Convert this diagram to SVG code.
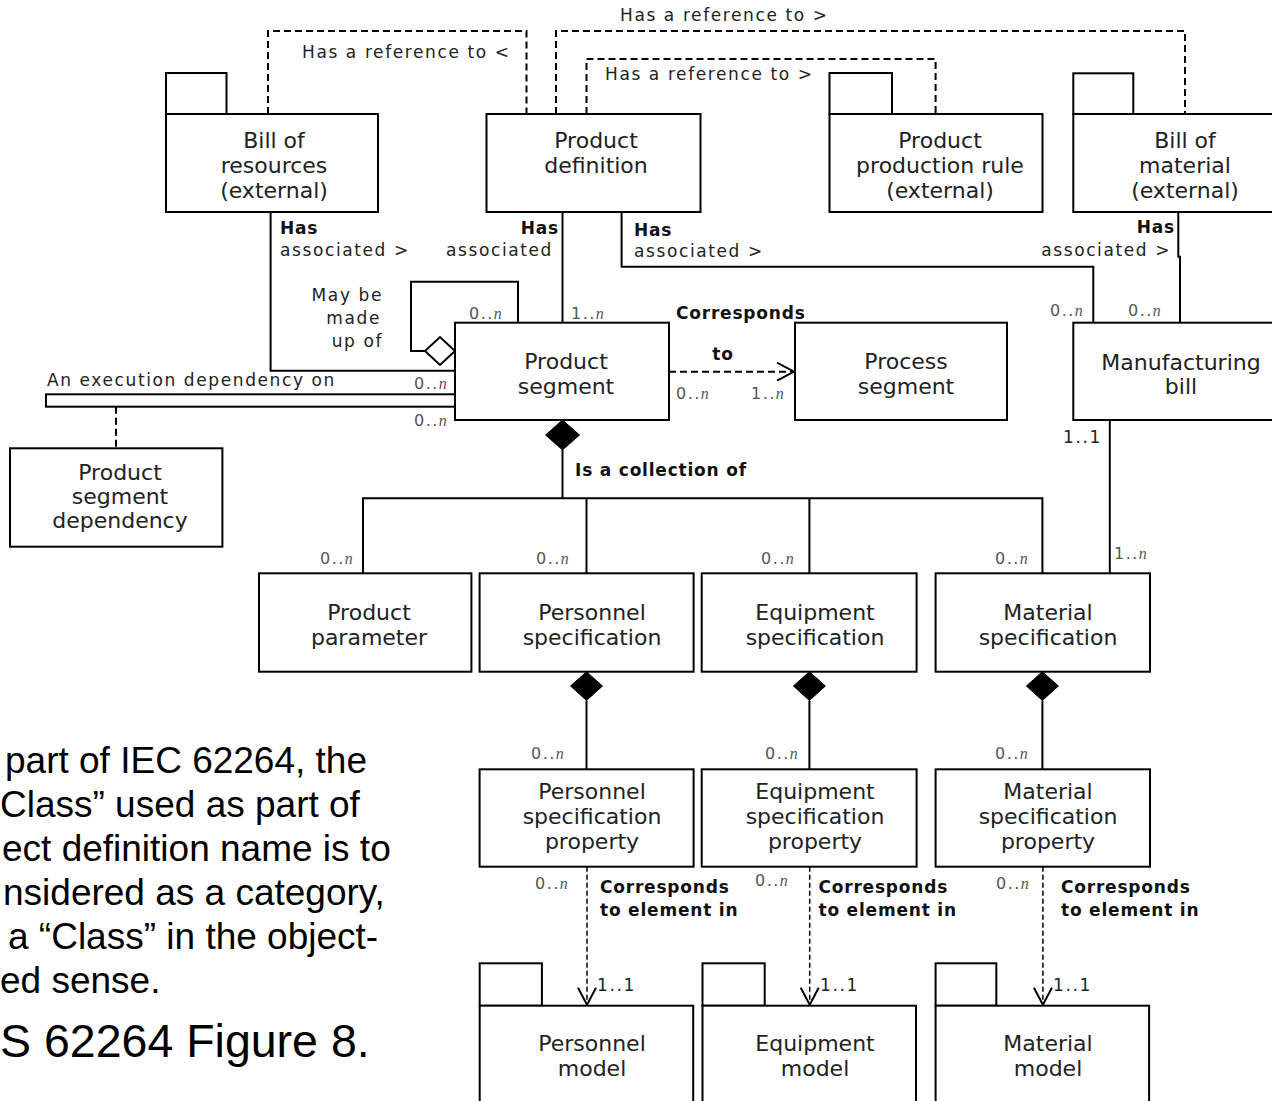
<svg xmlns="http://www.w3.org/2000/svg" width="1272" height="1101" viewBox="0 0 1272 1101">
<style>
.box{fill:#fff;stroke:#000;stroke-width:2}
.ln{fill:none;stroke:#000;stroke-width:2}
.dl{fill:none;stroke:#000;stroke-width:2;stroke-dasharray:7 4}
.dt{fill:none;stroke:#000;stroke-width:1.5;stroke-dasharray:5 3}
.fd{fill:#000;stroke:#000;stroke-width:1}
.hd{fill:#fff;stroke:#000;stroke-width:2}
.nt{font-family:"DejaVu Sans",sans-serif;font-size:22px;fill:#222;text-anchor:middle}
.el{font-family:"DejaVu Sans",sans-serif;font-size:17px;fill:#222;letter-spacing:1.6px}
.eb{font-family:"DejaVu Sans",sans-serif;font-size:17px;fill:#111;font-weight:bold;letter-spacing:0.8px}
.mu{font-family:"DejaVu Sans",sans-serif;font-size:16px;fill:#555;letter-spacing:1.5px}
.it{font-family:"Liberation Serif",serif;font-style:italic}
.end{text-anchor:end}
.big{font-family:"Liberation Sans",Arial,sans-serif;font-size:37px;fill:#000}
</style>
<defs>
<marker id="open" markerUnits="userSpaceOnUse" viewBox="0 0 20 20" markerWidth="20" markerHeight="20" refX="19" refY="10" orient="auto">
<path d="M2,1 L19,10 L2,19" fill="none" stroke="#000" stroke-width="2"/>
</marker>
</defs>
<rect width="1272" height="1101" fill="#fff"/>

<g id="connectors">
<path class="dl" d="M268,114 V31 H526.5 V114"/>
<path class="dl" d="M556,114 V31 H1185 V114"/>
<path class="dl" d="M586.5,114 V59 H935.6 V114"/>
<path class="ln" d="M270.6,212 V370.7 H455"/>
<path class="ln" d="M562.5,212 V322.7"/>
<path class="ln" d="M621.6,212 V266.7 H1093.3 V322.7"/>
<path class="ln" d="M1178.3,212 V256.7 H1180 V322.7"/>
<path class="ln" d="M518,322.7 V281.7 H411 V351 H425"/>
<polygon class="hd" points="425,351 440,337 455,351 440,365"/>
<rect class="box" x="46" y="394.3" width="409" height="12.4"/>
<path class="dl" d="M116,406.7 V448.3"/>
<path class="dl" d="M669,371.7 H794" marker-end="url(#open)"/>
<polygon class="fd" points="562.5,420 579.5,435 562.5,450 545.5,435"/>
<path class="ln" d="M562.5,450 V498.3"/>
<path class="ln" d="M363,573.3 V498.3 H1042.4 V573.3"/>
<path class="ln" d="M586.5,498.3 V573.3"/>
<path class="ln" d="M809.4,498.3 V573.3"/>
<path class="ln" d="M1109.8,420 V573.3"/>
<polygon class="fd" points="586.5,671.7 602.5,686 586.5,700.5 570.5,686"/>
<polygon class="fd" points="809.4,671.7 825.4,686 809.4,700.5 793.4,686"/>
<polygon class="fd" points="1042.4,671.7 1058.4,686 1042.4,700.5 1026.4,686"/>
<path class="ln" d="M586.5,700.5 V769.3"/>
<path class="ln" d="M809.4,700.5 V769.3"/>
<path class="ln" d="M1042.4,700.5 V769.3"/>
<path class="dt" d="M587,866.7 V1004.7" marker-end="url(#open)"/>
<path class="dt" d="M809.7,866.7 V1004.7" marker-end="url(#open)"/>
<path class="dt" d="M1042.9,866.7 V1004.7" marker-end="url(#open)"/>

<text class="el" x="302" y="58">Has a reference to &lt;</text>
<text class="el" x="620" y="21">Has a reference to  &gt;</text>
<text class="el" x="605" y="80">Has a reference to &gt;</text>
<text class="eb" x="280" y="234">Has</text>
<text class="el" x="280" y="256">associated &gt;</text>
<text class="eb end" x="559" y="234">Has</text>
<text class="el end" x="553" y="256">associated</text>
<text class="eb" x="634" y="236">Has</text>
<text class="el" x="634" y="257">associated &gt;</text>
<text class="eb end" x="1175" y="233">Has</text>
<text class="el end" x="1171" y="256">associated &gt;</text>
<text class="el end" x="383" y="301">May be</text>
<text class="el end" x="381" y="324">made</text>
<text class="el end" x="383" y="347">up of</text>
<text class="el" x="47" y="386">An execution dependency on</text>
<text class="eb" x="676" y="319">Corresponds</text>
<text class="eb" x="723" y="360" text-anchor="middle">to</text>
<text class="eb" x="575" y="476">Is a collection of</text>
<text class="eb" x="600" y="893">Corresponds</text>
<text class="eb" x="600" y="916">to element in</text>
<text class="eb" x="818.5" y="893">Corresponds</text>
<text class="eb" x="818.5" y="916">to element in</text>
<text class="eb" x="1061" y="893">Corresponds</text>
<text class="eb" x="1061" y="916">to element in</text>

<text class="mu" x="469" y="319">0..<tspan class="it">n</tspan></text>
<text class="mu" x="571" y="319">1..<tspan class="it">n</tspan></text>
<text class="mu" x="414" y="389">0..<tspan class="it">n</tspan></text>
<text class="mu" x="414" y="426">0..<tspan class="it">n</tspan></text>
<text class="mu" x="676" y="399">0..<tspan class="it">n</tspan></text>
<text class="mu" x="751" y="399">1..<tspan class="it">n</tspan></text>
<text class="mu" x="1050" y="316">0..<tspan class="it">n</tspan></text>
<text class="mu" x="1128" y="316">0..<tspan class="it">n</tspan></text>
<text class="el" x="1063" y="443">1..1</text>
<text class="mu" x="1114" y="559">1..<tspan class="it">n</tspan></text>
<text class="mu" x="320" y="564">0..<tspan class="it">n</tspan></text>
<text class="mu" x="536" y="564">0..<tspan class="it">n</tspan></text>
<text class="mu" x="761" y="564">0..<tspan class="it">n</tspan></text>
<text class="mu" x="995" y="564">0..<tspan class="it">n</tspan></text>
<text class="mu" x="531" y="759">0..<tspan class="it">n</tspan></text>
<text class="mu" x="765" y="759">0..<tspan class="it">n</tspan></text>
<text class="mu" x="995" y="759">0..<tspan class="it">n</tspan></text>
<text class="mu" x="535" y="889">0..<tspan class="it">n</tspan></text>
<text class="mu" x="755" y="886">0..<tspan class="it">n</tspan></text>
<text class="mu" x="996" y="889">0..<tspan class="it">n</tspan></text>
<text class="el" x="597" y="991">1..1</text>
<text class="el" x="820" y="991">1..1</text>
<text class="el" x="1053" y="991">1..1</text>
</g>

<g id="bill-of-resources">
<rect class="box" x="166" y="73" width="60.5" height="41"/>
<rect class="box" x="166" y="114" width="212" height="98"/>
<text class="nt" x="274" y="148">Bill of</text>
<text class="nt" x="274" y="173">resources</text>
<text class="nt" x="274" y="198">(external)</text>
</g>
<g id="product-definition">
<rect class="box" x="486.5" y="114" width="214" height="98"/>
<text class="nt" x="596" y="148">Product</text>
<text class="nt" x="596" y="173">definition</text>
</g>
<g id="product-production-rule">
<rect class="box" x="829.5" y="73" width="62.5" height="41"/>
<rect class="box" x="829.5" y="114" width="213" height="98"/>
<text class="nt" x="940" y="148">Product</text>
<text class="nt" x="940" y="173">production rule</text>
<text class="nt" x="940" y="198">(external)</text>
</g>
<g id="bill-of-material">
<rect class="box" x="1073.3" y="73.3" width="60" height="40.7"/>
<rect class="box" x="1073.3" y="114" width="224" height="98"/>
<text class="nt" x="1185" y="148">Bill of</text>
<text class="nt" x="1185" y="173">material</text>
<text class="nt" x="1185" y="198">(external)</text>
</g>
<g id="product-segment">
<rect class="box" x="455" y="322.7" width="214" height="97.3"/>
<text class="nt" x="566" y="369">Product</text>
<text class="nt" x="566" y="394">segment</text>
</g>
<g id="process-segment">
<rect class="box" x="795" y="322.7" width="212" height="97.3"/>
<text class="nt" x="906" y="369">Process</text>
<text class="nt" x="906" y="394">segment</text>
</g>
<g id="manufacturing-bill">
<rect class="box" x="1073.3" y="322.7" width="216" height="97.3"/>
<text class="nt" x="1181" y="370">Manufacturing</text>
<text class="nt" x="1181" y="394">bill</text>
</g>
<g id="product-segment-dependency">
<rect class="box" x="10" y="448.3" width="212.4" height="98.4"/>
<text class="nt" x="120" y="480">Product</text>
<text class="nt" x="120" y="504">segment</text>
<text class="nt" x="120" y="528">dependency</text>
</g>
<g id="product-parameter">
<rect class="box" x="259" y="573.3" width="212.4" height="98.4"/>
<text class="nt" x="369" y="620">Product</text>
<text class="nt" x="369" y="645">parameter</text>
</g>
<g id="personnel-specification">
<rect class="box" x="479.6" y="573.3" width="214" height="98.4"/>
<text class="nt" x="592" y="620">Personnel</text>
<text class="nt" x="592" y="645">specification</text>
</g>
<g id="equipment-specification">
<rect class="box" x="701.7" y="573.3" width="214.9" height="98.4"/>
<text class="nt" x="815" y="620">Equipment</text>
<text class="nt" x="815" y="645">specification</text>
</g>
<g id="material-specification">
<rect class="box" x="935.6" y="573.3" width="214.4" height="98.4"/>
<text class="nt" x="1048" y="620">Material</text>
<text class="nt" x="1048" y="645">specification</text>
</g>
<g id="personnel-specification-property">
<rect class="box" x="479.6" y="769.3" width="214" height="97.4"/>
<text class="nt" x="592" y="799">Personnel</text>
<text class="nt" x="592" y="824">specification</text>
<text class="nt" x="592" y="849">property</text>
</g>
<g id="equipment-specification-property">
<rect class="box" x="701.7" y="769.3" width="214.9" height="97.4"/>
<text class="nt" x="815" y="799">Equipment</text>
<text class="nt" x="815" y="824">specification</text>
<text class="nt" x="815" y="849">property</text>
</g>
<g id="material-specification-property">
<rect class="box" x="935.6" y="769.3" width="214.4" height="97.4"/>
<text class="nt" x="1048" y="799">Material</text>
<text class="nt" x="1048" y="824">specification</text>
<text class="nt" x="1048" y="849">property</text>
</g>
<g id="personnel-model">
<rect class="box" x="479.7" y="963.3" width="62.2" height="42.4"/>
<rect class="box" x="479.7" y="1005.7" width="213.5" height="110"/>
<text class="nt" x="592" y="1051">Personnel</text>
<text class="nt" x="592" y="1076">model</text>
</g>
<g id="equipment-model">
<rect class="box" x="702.5" y="963.3" width="62.2" height="42.4"/>
<rect class="box" x="702.5" y="1005.7" width="213.5" height="110"/>
<text class="nt" x="815" y="1051">Equipment</text>
<text class="nt" x="815" y="1076">model</text>
</g>
<g id="material-model">
<rect class="box" x="935.6" y="963.3" width="60.7" height="42.4"/>
<rect class="box" x="935.6" y="1005.7" width="213.5" height="110"/>
<text class="nt" x="1048" y="1051">Material</text>
<text class="nt" x="1048" y="1076">model</text>
</g>

<g id="note">
<text class="big" x="5" y="773">part of IEC 62264, the</text>
<text class="big" x="0" y="817">Class” used as part of</text>
<text class="big" x="2" y="861">ect definition name is to</text>
<text class="big" x="3" y="905">nsidered as a category,</text>
<text class="big" x="8" y="949">a “Class” in the object-</text>
<text class="big" x="0" y="993">ed sense.</text>
<text class="big" x="0" y="1057" style="font-size:46.5px">S 62264 Figure 8.</text>
</g>
</svg>
